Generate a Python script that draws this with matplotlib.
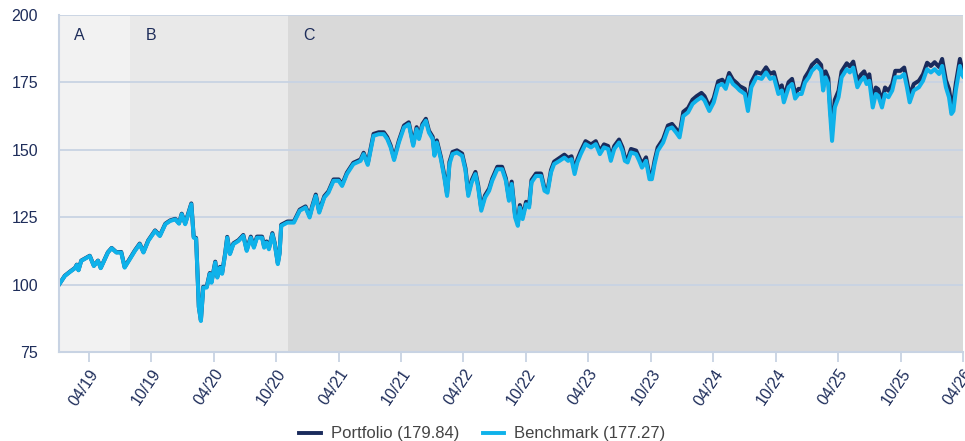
import matplotlib
matplotlib.use('Agg')
import matplotlib.pyplot as plt
import pandas as pd
from matplotlib.lines import Line2D

plt.rcParams['font.family'] = ['Liberation Sans', 'DejaVu Sans']

dates = [
    '2019-01-04', '2019-01-21', '2019-02-06', '2019-02-20', '2019-02-25', '2019-03-02', '2019-03-10',
    '2019-04-04', '2019-04-16', '2019-04-28', '2019-05-06', '2019-05-27', '2019-06-07', '2019-06-21',
    '2019-07-05', '2019-07-15', '2019-08-14', '2019-08-28', '2019-09-08', '2019-09-22', '2019-10-12',
    '2019-10-26', '2019-11-11', '2019-11-25', '2019-12-10', '2019-12-21', '2019-12-29', '2020-01-08',
    '2020-01-26', '2020-02-02', '2020-02-09', '2020-02-17', '2020-02-23', '2020-03-01', '2020-03-11',
    '2020-03-20', '2020-03-25', '2020-04-05', '2020-04-11', '2020-04-19', '2020-04-25', '2020-05-04',
    '2020-05-10', '2020-05-18', '2020-05-28', '2020-06-12', '2020-06-26', '2020-07-06', '2020-07-18',
    '2020-07-27', '2020-08-05', '2020-08-20', '2020-08-26', '2020-09-02', '2020-09-09', '2020-09-19',
    '2020-09-26', '2020-10-05', '2020-10-10', '2020-10-15', '2020-11-02', '2020-11-21', '2020-12-08',
    '2020-12-25', '2021-01-06', '2021-01-14', '2021-01-24', '2021-02-03', '2021-02-18', '2021-03-02',
    '2021-03-17', '2021-04-01', '2021-04-11', '2021-04-25', '2021-05-14', '2021-06-04', '2021-06-13',
    '2021-06-25', '2021-07-03', '2021-07-12', '2021-07-27', '2021-08-11', '2021-08-21', '2021-08-31',
    '2021-09-10', '2021-09-24', '2021-10-09', '2021-10-23', '2021-11-05', '2021-11-15', '2021-11-22',
    '2021-12-02', '2021-12-12', '2021-12-21', '2022-01-01', '2022-01-06', '2022-01-13', '2022-01-25',
    '2022-02-04', '2022-02-12', '2022-02-19', '2022-02-28', '2022-03-13', '2022-03-28', '2022-04-07',
    '2022-04-15', '2022-04-25', '2022-05-06', '2022-05-14', '2022-05-23', '2022-06-03', '2022-06-15',
    '2022-06-24', '2022-07-09', '2022-07-23', '2022-08-03', '2022-08-12', '2022-08-20', '2022-08-30',
    '2022-09-07', '2022-09-13', '2022-09-21', '2022-10-01', '2022-10-10', '2022-10-17', '2022-10-30',
    '2022-11-14', '2022-11-24', '2022-12-03', '2022-12-13', '2022-12-22', '2023-01-07', '2023-01-21',
    '2023-02-01', '2023-02-11', '2023-02-20', '2023-02-28', '2023-03-10', '2023-03-24', '2023-04-09',
    '2023-04-23', '2023-05-05', '2023-05-17', '2023-05-29', '2023-06-06', '2023-06-16', '2023-06-30',
    '2023-07-10', '2023-07-17', '2023-07-25', '2023-08-04', '2023-08-19', '2023-08-28', '2023-09-05',
    '2023-09-17', '2023-09-27', '2023-10-04', '2023-10-12', '2023-10-21', '2023-11-06', '2023-11-20',
    '2023-12-02', '2023-12-14', '2023-12-24', '2024-01-04', '2024-01-18', '2024-01-31', '2024-02-12',
    '2024-02-26', '2024-03-06', '2024-03-20', '2024-04-02', '2024-04-15', '2024-04-27', '2024-05-07',
    '2024-05-17', '2024-05-28', '2024-06-08', '2024-06-17', '2024-07-02', '2024-07-11', '2024-07-21',
    '2024-08-05', '2024-08-20', '2024-09-02', '2024-09-14', '2024-09-25', '2024-10-08', '2024-10-18',
    '2024-10-24', '2024-11-07', '2024-11-17', '2024-11-26', '2024-12-06', '2024-12-15', '2024-12-25',
    '2025-01-05', '2025-01-14', '2025-01-29', '2025-02-10', '2025-02-16', '2025-02-23', '2025-03-03',
    '2025-03-07', '2025-03-14', '2025-03-22', '2025-04-02', '2025-04-11', '2025-04-26', '2025-05-05',
    '2025-05-15', '2025-05-27', '2025-06-06', '2025-06-16', '2025-06-23', '2025-07-01', '2025-07-11',
    '2025-07-20', '2025-07-27', '2025-08-07', '2025-08-16', '2025-08-26', '2025-09-06', '2025-09-15',
    '2025-09-30', '2025-10-11', '2025-10-19', '2025-10-27', '2025-11-08', '2025-11-23', '2025-12-05',
    '2025-12-17', '2025-12-28', '2026-01-08', '2026-01-21', '2026-01-30', '2026-02-10', '2026-02-19',
    '2026-02-26', '2026-03-04', '2026-03-11', '2026-03-23', '2026-03-28', '2026-04-01',
]

benchmark = [
    100.0, 103.2, 104.8, 106.1, 107.3, 105.3, 108.8,
    110.6, 106.9, 108.8, 106.1, 111.9, 113.5, 111.9,
    111.9, 106.3, 112.5, 115.0, 111.9, 116.2, 119.9,
    118.0, 122.4, 123.6, 124.2, 122.6, 126.1, 122.4,
    129.8, 117.4, 117.0, 91.5, 86.5, 98.9, 98.9,
    104.0, 100.7, 108.2, 102.6, 106.3, 104.0, 111.3,
    117.4, 111.3, 115.0, 116.2, 118.1, 112.5, 117.4,
    113.7, 117.4, 117.4, 113.7, 115.6, 113.1, 118.7,
    115.0, 107.6, 111.3, 121.8, 123.0, 123.0, 127.4,
    128.6, 124.9, 128.8, 132.9, 126.7, 132.3, 134.1,
    138.5, 138.5, 136.6, 141.0, 144.7, 145.9, 148.4,
    144.4, 149.5, 155.2, 155.8, 155.8, 154.0, 150.9,
    146.2, 152.7, 158.3, 159.5, 151.5, 157.7, 154.0,
    158.9, 160.8, 156.4, 154.0, 147.8, 152.7, 146.5,
    139.7, 132.9, 144.7, 148.4, 149.0, 147.8, 142.3,
    132.9, 137.9, 141.0, 136.0, 127.4, 132.3, 134.8,
    138.5, 142.8, 142.8, 138.5, 131.1, 137.3, 124.9,
    121.8, 128.6, 124.3, 129.8, 128.6, 137.9, 140.3,
    140.3, 134.8, 134.1, 141.6, 144.7, 145.9, 147.1,
    145.9, 146.5, 141.0, 145.3, 148.4, 152.1, 150.9,
    152.1, 148.4, 150.9, 150.3, 145.9, 150.3, 152.7,
    149.6, 145.9, 145.3, 149.0, 148.4, 145.9, 143.4,
    145.9, 139.1, 139.1, 144.7, 149.6, 152.7, 157.7,
    158.3, 156.4, 154.6, 162.5, 163.9, 167.0, 168.3,
    169.5, 168.3, 164.4, 167.6, 173.8, 174.4, 172.6,
    176.9, 174.4, 173.2, 172.0, 170.7, 164.4, 173.2,
    176.9, 176.3, 178.7, 176.3, 176.9, 170.7, 172.0,
    167.6, 173.2, 174.4, 169.0, 170.7, 170.7, 175.0,
    176.9, 179.3, 181.1, 179.3, 172.0, 176.9, 174.4,
    165.7, 153.3, 165.7, 169.5, 176.9, 179.9, 178.7,
    180.5, 173.2, 175.6, 176.9, 174.4, 175.6, 165.7,
    170.7, 170.1, 165.7, 170.7, 169.5, 172.0, 176.9,
    176.9, 178.1, 173.2, 167.6, 172.0, 173.2, 175.6,
    179.9, 178.7, 179.9, 178.1, 181.1, 173.2, 169.5,
    163.3, 164.4, 172.0, 181.1, 178.1, 177.27,
]

portfolio = [
    100.0, 103.3, 104.9, 106.2, 107.4, 105.4, 108.9,
    110.7, 107.0, 108.9, 106.2, 112.0, 113.6, 112.0,
    112.1, 106.5, 112.7, 115.2, 112.1, 116.4, 120.1,
    118.2, 122.6, 123.8, 124.4, 122.8, 126.3, 122.7,
    130.1, 117.7, 117.3, 91.8, 86.8, 99.2, 99.2,
    104.3, 101.0, 108.5, 102.9, 106.6, 104.3, 111.6,
    117.7, 111.6, 115.3, 116.5, 118.4, 112.9, 117.8,
    114.1, 117.8, 117.8, 114.1, 116.0, 113.5, 119.1,
    115.4, 108.0, 111.7, 122.2, 123.4, 123.4, 127.8,
    129.0, 125.4, 129.3, 133.4, 127.2, 132.8, 134.6,
    139.0, 139.0, 137.1, 141.5, 145.2, 146.4, 148.9,
    144.9, 150.2, 155.9, 156.5, 156.5, 154.7, 151.6,
    146.9, 153.4, 159.0, 160.2, 152.2, 158.4, 154.7,
    159.6, 161.5, 157.1, 154.8, 148.6, 153.5, 147.3,
    140.5, 133.7, 145.5, 149.2, 149.8, 148.6, 143.1,
    133.7, 138.7, 141.8, 136.8, 128.2, 133.1, 135.6,
    139.3, 143.7, 143.7, 139.4, 132.0, 138.2, 125.8,
    122.7, 129.5, 125.2, 130.7, 129.5, 138.8, 141.2,
    141.2, 135.7, 135.0, 142.5, 145.6, 147.0, 148.2,
    147.0, 147.6, 142.1, 146.4, 149.5, 153.2, 152.0,
    153.2, 149.5, 152.0, 151.4, 147.0, 151.4, 153.8,
    150.9, 147.2, 146.6, 150.3, 149.7, 147.2, 144.7,
    147.2, 140.4, 140.4, 146.0, 150.9, 154.0, 159.0,
    159.6, 157.7, 155.9, 164.1, 165.5, 168.6, 169.9,
    171.1, 169.9, 166.0, 169.2, 175.4, 176.0, 174.2,
    178.5, 176.0, 174.8, 173.6, 172.6, 166.3, 175.1,
    178.8, 178.2, 180.6, 178.2, 178.8, 172.6, 173.9,
    169.5, 175.1, 176.3, 170.9, 172.6, 172.6, 176.9,
    179.1, 181.5, 183.3, 181.5, 174.2, 179.1, 176.6,
    168.5, 156.8, 168.5, 171.9, 179.1, 182.1, 180.9,
    182.7, 175.4, 177.8, 179.1, 176.6, 178.0, 168.1,
    173.1, 172.5, 168.1, 173.1, 171.9, 174.4, 179.3,
    179.3, 180.5, 175.6, 170.0, 174.4, 175.6, 178.0,
    182.3, 181.1, 182.5, 180.7, 183.7, 175.8, 172.6,
    166.8, 167.9, 174.6, 183.7, 180.7, 179.84,
]

series_names = ['Portfolio', 'Benchmark']
region_labels = ['A', 'B', 'C']
region_starts = ['2019-01-04', '2019-08-01', '2020-11-05']
region_ends = ['2019-08-01', '2020-11-05', '2026-04-01']
tick_dates = ['2019-04-01', '2019-10-01', '2020-04-01', '2020-10-01', '2021-04-01', '2021-10-01',
              '2022-04-01', '2022-10-01', '2023-04-01', '2023-10-01', '2024-04-01', '2024-10-01',
              '2025-04-01', '2025-10-01', '2026-04-01']
tick_labels = ['04/19', '10/19', '04/20', '10/20', '04/21', '10/21', '04/22', '10/22',
               '04/23', '10/23', '04/24', '10/24', '04/25', '10/25', '04/26']
y_ticks = [75, 100, 125, 150, 175, 200]

NAVY = '#1a2b5c'
LIGHT = '#0fb2ea'
GRID = '#c8d3e3'
TEXT = '#1e2d5a'
region_colors = ['#f2f2f2', '#e9e9e9', '#d9d9d9']

W, H = 965, 441
fig = plt.figure(figsize=(W / 100, H / 100), dpi=100)
ax = fig.add_axes([59 / W, 1 - 352 / H, (963 - 59) / W, (352 - 15) / H])

d = pd.to_datetime(dates)
for lab, s, e, c in zip(region_labels, region_starts, region_ends, region_colors):
    ax.axvspan(pd.Timestamp(s), pd.Timestamp(e), color=c, lw=0, zorder=0)
    ax.annotate(lab, xy=(pd.Timestamp(s), 1), xycoords=('data', 'axes fraction'),
                xytext=(15, -20), textcoords='offset pixels', ha='left', va='center',
                fontsize=11.5, color=TEXT, zorder=5)

ax.plot(d, portfolio, color=NAVY, lw=2.9, zorder=3, solid_joinstyle='round')
ax.plot(d, benchmark, color=LIGHT, lw=2.9, zorder=4, solid_joinstyle='round')

ax.set_xlim(pd.Timestamp(region_starts[0]), pd.Timestamp(region_ends[-1]))
ax.set_ylim(75, 200)
ax.set_yticks(y_ticks)
ax.set_yticklabels([str(v) for v in y_ticks])
ax.set_xticks(pd.to_datetime(tick_dates))
ax.set_xticklabels(tick_labels, rotation=56, ha='right', rotation_mode='anchor')

ax.grid(axis='y', color=GRID, lw=1.3, zorder=1)
ax.set_axisbelow(False)
for sp in ['top', 'right']:
    ax.spines[sp].set_visible(False)
for sp in ['left', 'bottom']:
    ax.spines[sp].set_color(GRID)
    ax.spines[sp].set_linewidth(1.5)
    ax.spines[sp].set_zorder(6)

ax.tick_params(axis='y', length=0, pad=15, labelsize=11.5, labelcolor=TEXT)
ax.tick_params(axis='x', length=7.5, width=1.3, color=GRID, pad=3, labelsize=11.5, labelcolor=TEXT)

handles = [Line2D([], [], color=NAVY, lw=2.8), Line2D([], [], color=LIGHT, lw=2.8)]
labels = [f'{series_names[0]} ({portfolio[-1]:.2f})', f'{series_names[1]} ({benchmark[-1]:.2f})']
fig.legend(handles, labels, loc='lower center', bbox_to_anchor=(0.5, -0.035), ncol=2,
           frameon=False, fontsize=12, labelcolor='#444444', handlelength=1.3,
           handletextpad=0.6, columnspacing=1.4)

fig.savefig('out.png', dpi=100)
